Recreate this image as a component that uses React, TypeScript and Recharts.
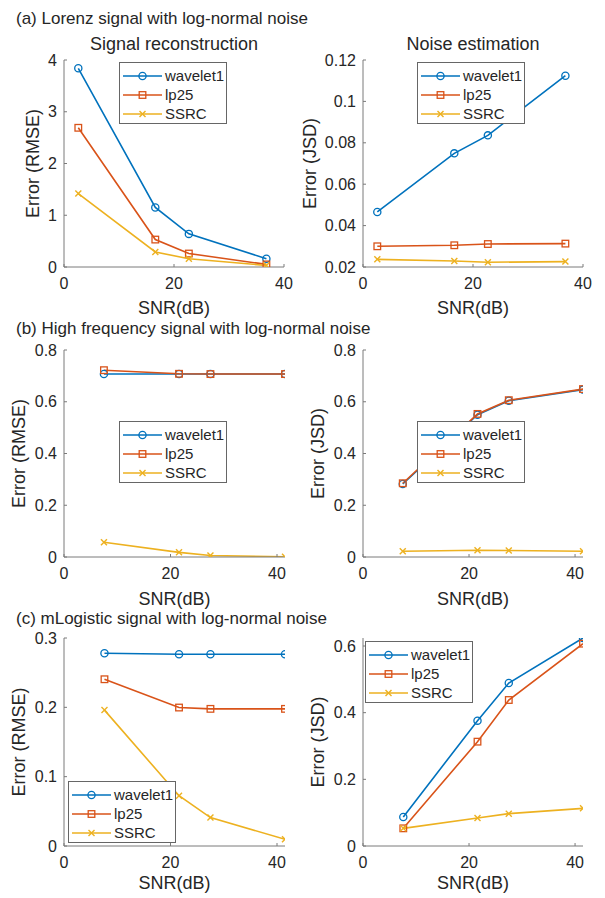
import React from 'react';
import { LineChart, Line, XAxis, YAxis, Legend, Label } from 'recharts';

const FONT = '"Liberation Sans", Arial, Helvetica, sans-serif';
const AXIS = '#262626';
const AXIS_LINE = '#7a7a7a';

// ---- series meta ----
const seriesNames = ['wavelet1', 'lp25', 'SSRC'];
const seriesColors = ['#0072BD', '#D95319', '#EDB120'];
const seriesMarkers = ['circle', 'square', 'cross'];

// ---- captions ----
const panelCaptions = [
  '(a) Lorenz signal with log-normal noise',
  '(b) High frequency signal with log-normal noise',
  '(c) mLogistic signal with log-normal noise',
];
const subplotTitles = ['Signal reconstruction', 'Noise estimation'];
const xLabel = 'SNR(dB)';
const yLabels = ['Error (RMSE)', 'Error (JSD)'];

// ---- x values (SNR dB) ----
const snrA = [2.6, 16.6, 22.7, 36.8];
const snrB = [7.5, 21.6, 27.5, 41.5];
const snrC = [7.6, 21.6, 27.5, 41.5];

// ---- (a) Lorenz ----
const aRmseWavelet = [3.84, 1.15, 0.64, 0.16];
const aRmseLp25 = [2.69, 0.53, 0.26, 0.05];
const aRmseSsrc = [1.42, 0.29, 0.16, 0.03];
const aJsdWavelet = [0.0466, 0.0749, 0.0836, 0.1124];
const aJsdLp25 = [0.03, 0.0305, 0.0311, 0.0313];
const aJsdSsrc = [0.0237, 0.0229, 0.0223, 0.0226];

// ---- (b) High frequency ----
const bRmseWavelet = [0.707, 0.707, 0.707, 0.707];
const bRmseLp25 = [0.722, 0.708, 0.707, 0.707];
const bRmseSsrc = [0.057, 0.018, 0.006, 0.001];
const bJsdWavelet = [0.282, 0.55, 0.604, 0.647];
const bJsdLp25 = [0.285, 0.553, 0.606, 0.649];
const bJsdSsrc = [0.022, 0.026, 0.025, 0.022];

// ---- (c) mLogistic ----
const cRmseWavelet = [0.278, 0.2765, 0.2765, 0.2765];
const cRmseLp25 = [0.2405, 0.1997, 0.1978, 0.1978];
const cRmseSsrc = [0.196, 0.0725, 0.041, 0.0096];
const cJsdWavelet = [0.087, 0.376, 0.489, 0.624];
const cJsdLp25 = [0.053, 0.313, 0.438, 0.607];
const cJsdSsrc = [0.053, 0.084, 0.097, 0.113];

// ---- ticks & domains ----
const xTicks = [0, 20, 40];
const xDomainA = [0, 40];
const xDomainBC = [0, 41.5];
const yTicksARmse = [0, 1, 2, 3, 4];
const yTicksAJsd = [0.02, 0.04, 0.06, 0.08, 0.1, 0.12];
const yTicksB = [0, 0.2, 0.4, 0.6, 0.8];
const yTicksCRmse = [0, 0.1, 0.2, 0.3];
const yTicksCJsd = [0, 0.2, 0.4, 0.6];

const Marker = ({ cx, cy, kind, color }: any) => {
  if (cx == null || cy == null) return null;
  if (kind === 'circle')
    return <circle cx={cx} cy={cy} r={3.6} fill="none" stroke={color} strokeWidth={1.3} />;
  if (kind === 'square')
    return <rect x={cx - 3.3} y={cy - 3.3} width={6.6} height={6.6} fill="none" stroke={color} strokeWidth={1.3} />;
  return (
    <g stroke={color} strokeWidth={1.4}>
      <line x1={cx - 3} y1={cy - 3} x2={cx + 3} y2={cy + 3} />
      <line x1={cx - 3} y1={cy + 3} x2={cx + 3} y2={cy - 3} />
    </g>
  );
};

const LegendBox = ({ width }: any) => (
  <svg width={width} height={62} style={{ display: 'block' }}>
    <rect x={0.5} y={0.5} width={width - 1} height={61} fill="#fff" stroke="#666" strokeWidth={1} />
    {seriesNames.map((name, i) => {
      const y = 14 + i * 19;
      return (
        <g key={name}>
          <line x1={4} x2={43} y1={y} y2={y} stroke={seriesColors[i]} strokeWidth={1.5} />
          <Marker cx={23.5} cy={y} kind={seriesMarkers[i]} color={seriesColors[i]} />
          <text x={46} y={y} dy="0.36em" fontSize={15} fill={AXIS} fontFamily={FONT}>
            {name}
          </text>
        </g>
      );
    })}
  </svg>
);

type PanelProps = {
  col: number;
  boxTop: number;
  boxBottom: number;
  boxLeft: number;
  boxRight: number;
  x: number[];
  w: number[];
  l: number[];
  s: number[];
  xDomain: number[];
  yDomain: number[];
  yTicks: number[];
  ylabelX: number;
  xlabelOff: number;
  legendX: number;
  legendY: number;
};

function Panel(p: PanelProps) {
  const chartLeft = p.col === 0 ? 0 : 300;
  const chartWidth = p.col === 0 ? 300 : 305;
  const mt = 12;
  const xh = 55;
  const chartTop = p.boxTop - mt;
  const height = mt + (p.boxBottom - p.boxTop) + xh;
  const data = p.x.map((snr, i) => ({ snr, wavelet1: p.w[i], lp25: p.l[i], SSRC: p.s[i] }));
  const tickStyle = { fill: AXIS, fontSize: 16, fontFamily: FONT };
  const empty = () => '';
  return (
    <div style={{ position: 'absolute', left: chartLeft, top: chartTop }}>
      <LineChart
        width={chartWidth}
        height={height}
        data={data}
        margin={{ top: mt, right: chartLeft + chartWidth - p.boxRight, bottom: 0, left: 0 }}
      >
        <XAxis
          type="number"
          dataKey="snr"
          domain={p.xDomain}
          ticks={xTicks}
          allowDataOverflow
          interval={0}
          height={xh}
          stroke={AXIS_LINE}
          tickSize={-3}
          tickMargin={14}
          tick={tickStyle}
        >
          <Label
            value={xLabel}
            position="insideBottom"
            offset={xh - p.xlabelOff}
            style={{ fontSize: 18, fill: AXIS, fontFamily: FONT }}
          />
        </XAxis>
        <XAxis
          xAxisId="top"
          orientation="top"
          type="number"
          dataKey="snr"
          domain={p.xDomain}
          ticks={xTicks}
          allowDataOverflow
          interval={0}
          height={0}
          stroke={AXIS_LINE}
          tickSize={-3}
          tickFormatter={empty}
        />
        <YAxis
          type="number"
          domain={p.yDomain}
          ticks={p.yTicks}
          allowDataOverflow
          interval={0}
          width={p.boxLeft - chartLeft}
          stroke={AXIS_LINE}
          tickSize={-3}
          tickMargin={10}
          tick={tickStyle}
        >
          <Label
            value={yLabels[p.col]}
            angle={-90}
            position="insideLeft"
            offset={p.ylabelX - chartLeft}
            style={{ fontSize: 18, fill: AXIS, fontFamily: FONT, textAnchor: 'middle' }}
          />
        </YAxis>
        <YAxis
          yAxisId="right"
          orientation="right"
          type="number"
          domain={p.yDomain}
          ticks={p.yTicks}
          allowDataOverflow
          interval={0}
          width={0}
          stroke={AXIS_LINE}
          tickSize={-3}
          tickFormatter={empty}
        />
        {seriesNames.map((name, i) => (
          <Line
            key={name}
            dataKey={name}
            stroke={seriesColors[i]}
            strokeWidth={1.6}
            isAnimationActive={false}
            dot={(dp: any) => (
              <Marker key={`${name}-${dp.index}`} cx={dp.cx} cy={dp.cy} kind={seriesMarkers[i]} color={seriesColors[i]} />
            )}
            activeDot={false}
          />
        ))}
        <Legend
          layout="horizontal"
          align="center"
          verticalAlign="middle"
          wrapperStyle={{ left: p.legendX - chartLeft, top: p.legendY - chartTop, width: 110, height: 62 }}
          content={() => <LegendBox width={108} />}
        />
      </LineChart>
    </div>
  );
}

const textBase: React.CSSProperties = {
  position: 'absolute',
  whiteSpace: 'nowrap',
  color: AXIS,
  fontFamily: FONT,
};

export default function App() {
  return (
    <div style={{ position: 'absolute', left: 0, top: 0, width: 605, height: 898, background: '#fff', overflow: 'hidden' }}>
      <div style={{ ...textBase, left: 16, top: 9.6, fontSize: 17, lineHeight: '17px' }}>{panelCaptions[0]}</div>
      <div style={{ ...textBase, left: 16, top: 319.9, fontSize: 17, lineHeight: '17px' }}>{panelCaptions[1]}</div>
      <div style={{ ...textBase, left: 16, top: 609.9, fontSize: 17, lineHeight: '17px' }}>{panelCaptions[2]}</div>
      <div style={{ ...textBase, left: 74, width: 200, textAlign: 'center', top: 34.8, fontSize: 18, lineHeight: '18px' }}>
        {subplotTitles[0]}
      </div>
      <div style={{ ...textBase, left: 373, width: 200, textAlign: 'center', top: 34.8, fontSize: 18, lineHeight: '18px' }}>
        {subplotTitles[1]}
      </div>

      <Panel col={0} boxTop={60} boxBottom={267} boxLeft={64} boxRight={284} x={snrA}
        w={aRmseWavelet} l={aRmseLp25} s={aRmseSsrc} xDomain={xDomainA} yDomain={[0, 4]} yTicks={yTicksARmse}
        ylabelX={33} xlabelOff={47} legendX={119} legendY={62} />
      <Panel col={1} boxTop={60} boxBottom={267} boxLeft={363} boxRight={583} x={snrA}
        w={aJsdWavelet} l={aJsdLp25} s={aJsdSsrc} xDomain={xDomainA} yDomain={[0.02, 0.12]} yTicks={yTicksAJsd}
        ylabelX={310} xlabelOff={47} legendX={417} legendY={62} />

      <Panel col={0} boxTop={350} boxBottom={557} boxLeft={64} boxRight={285} x={snrB}
        w={bRmseWavelet} l={bRmseLp25} s={bRmseSsrc} xDomain={xDomainBC} yDomain={[0, 0.8]} yTicks={yTicksB}
        ylabelX={19} xlabelOff={48} legendX={119} legendY={421} />
      <Panel col={1} boxTop={350} boxBottom={557} boxLeft={363} boxRight={583} x={snrB}
        w={bJsdWavelet} l={bJsdLp25} s={bJsdSsrc} xDomain={xDomainBC} yDomain={[0, 0.8]} yTicks={yTicksB}
        ylabelX={318} xlabelOff={48} legendX={417} legendY={421} />

      <Panel col={0} boxTop={638} boxBottom={846} boxLeft={64} boxRight={285} x={snrC}
        w={cRmseWavelet} l={cRmseLp25} s={cRmseSsrc} xDomain={xDomainBC} yDomain={[0, 0.3]} yTicks={yTicksCRmse}
        ylabelX={19} xlabelOff={43} legendX={68} legendY={781} />
      <Panel col={1} boxTop={638} boxBottom={846} boxLeft={363} boxRight={583} x={snrC}
        w={cJsdWavelet} l={cJsdLp25} s={cJsdSsrc} xDomain={xDomainBC} yDomain={[0, 0.624]} yTicks={yTicksCJsd}
        ylabelX={318} xlabelOff={43} legendX={365} legendY={641} />
    </div>
  );
}
